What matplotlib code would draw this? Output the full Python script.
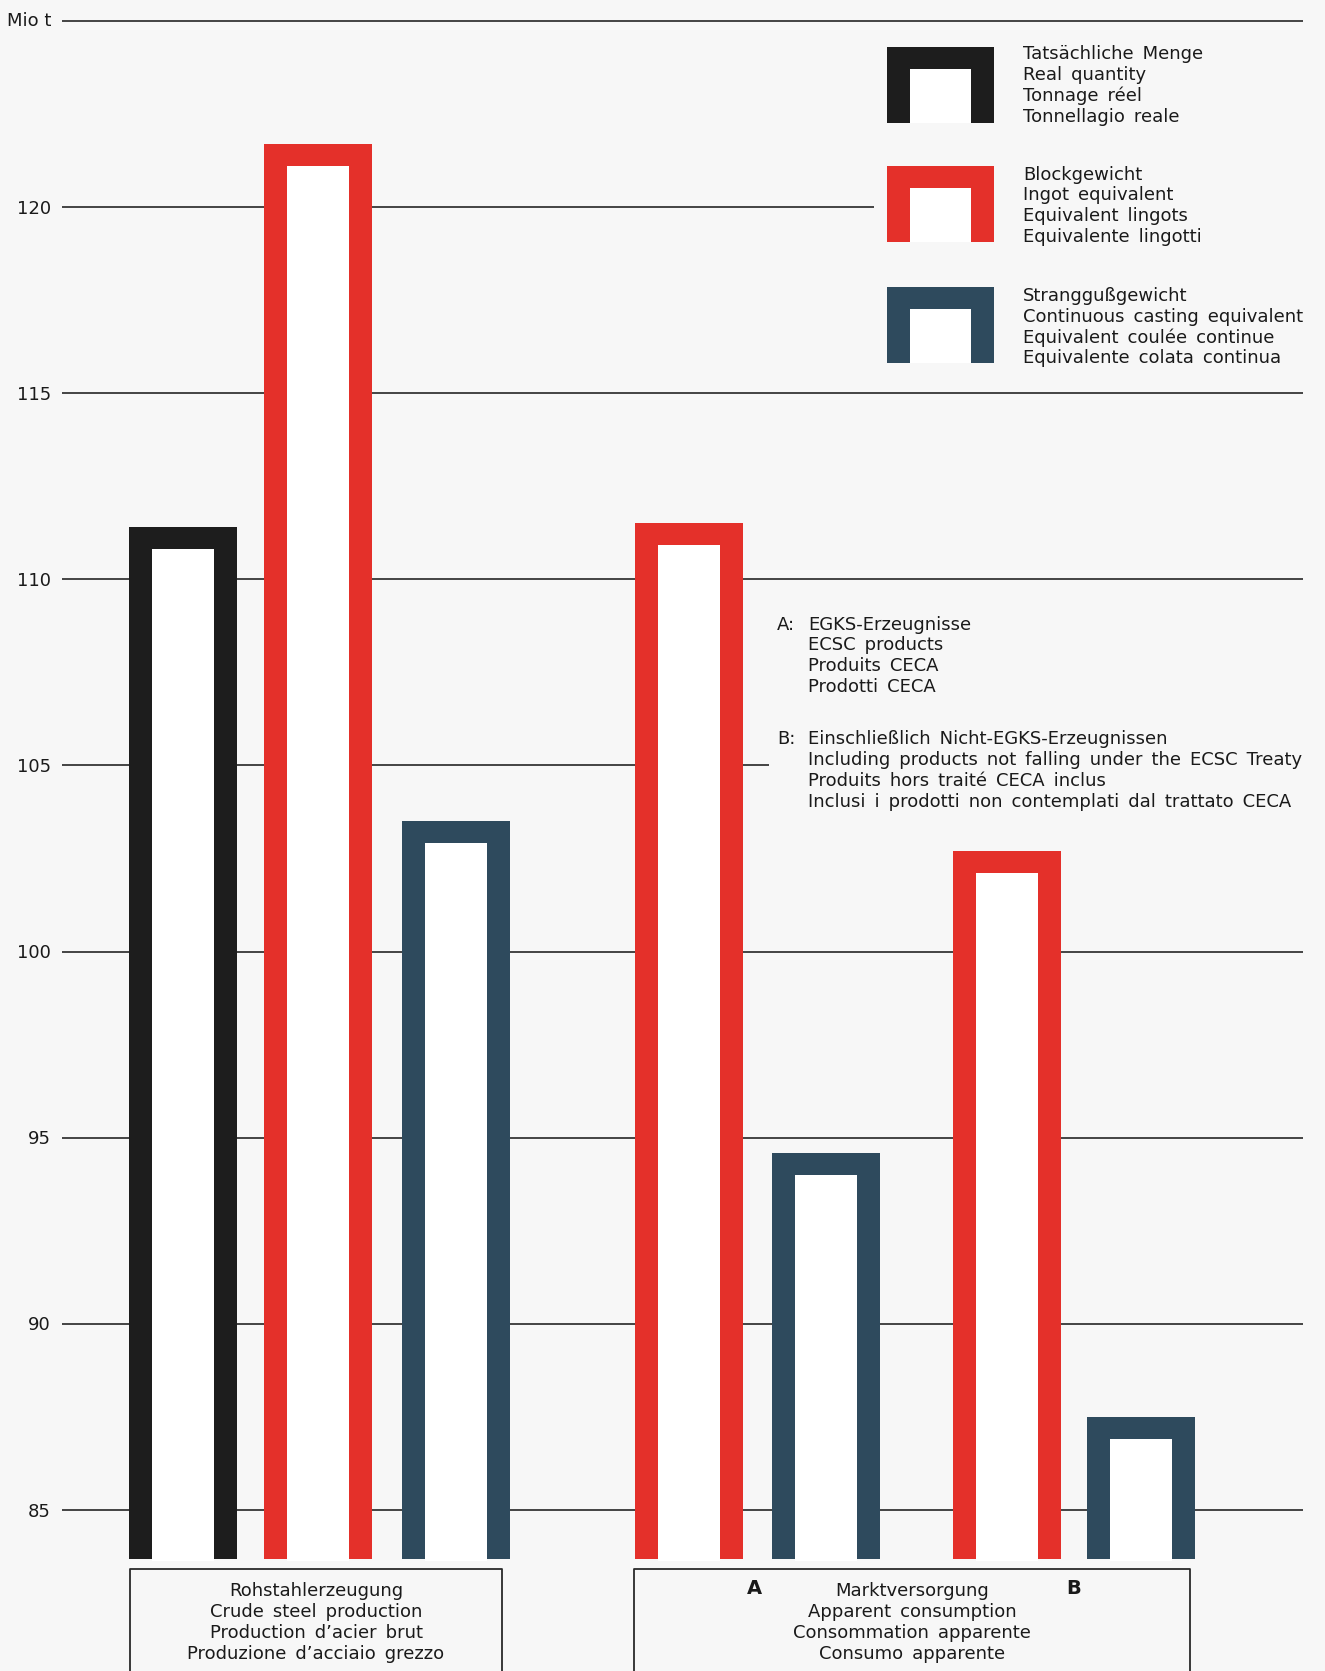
import matplotlib
matplotlib.use('Agg')
import matplotlib.pyplot as plt
from matplotlib.patches import Rectangle

plt.rcParams['font.family'] = ['DejaVu Sans']

# ---------------- data ----------------
bar_values = [111.4, 121.7, 103.5, 111.5, 94.6, 102.7, 87.5]
bar_kinds = ['real', 'ingot', 'cc', 'ingot', 'cc', 'ingot', 'cc']
yticks = [85, 90, 95, 100, 105, 110, 115, 120]
unit_label = 'Mio t'
unit_level = 125
baseline = 83.68

legend_kinds = ['real', 'ingot', 'cc']
legend_texts = [
    ['Tatsächliche Menge', 'Real quantity', 'Tonnage réel', 'Tonnellagio reale'],
    ['Blockgewicht', 'Ingot equivalent', 'Equivalent lingots', 'Equivalente lingotti'],
    ['Stranggußgewicht', 'Continuous casting equivalent', 'Equivalent coulée continue',
     'Equivalente colata continua'],
]
note_A = ['EGKS-Erzeugnisse', 'ECSC products', 'Produits CECA', 'Prodotti CECA']
note_B = ['Einschließlich Nicht-EGKS-Erzeugnissen',
          'Including products not falling under the ECSC Treaty',
          'Produits hors traité CECA inclus',
          'Inclusi i prodotti non contemplati dal trattato CECA']
group_labels = [
    ['Rohstahlerzeugung', 'Crude steel production', 'Production d’acier brut',
     'Produzione d’acciaio grezzo'],
    ['Marktversorgung', 'Apparent consumption', 'Consommation apparente',
     'Consumo apparente'],
]


def sp(s):
    # wide word spacing as in the printed original
    return s.replace(' ', '\u2002')


# ---------------- style / layout ----------------
colors = {'real': '#1d1d1d', 'ingot': '#e4302a', 'cc': '#2e4a5d'}
bg = '#f7f7f7'
txt = '#1a1a1a'
W, H = 1325, 1671
bar_x = [183, 317.5, 456, 689, 825.5, 1007, 1141]
bar_w = 108
side = 23
top_px = 22
px_per_unit = 37.23
y_top_val = 120 + 207 / px_per_unit
y_bot_val = 120 - (H - 207) / px_per_unit

fig = plt.figure(figsize=(W / 100, H / 100), dpi=100, facecolor=bg)
ax = fig.add_axes([0, 0, 1, 1])
ax.set_xlim(0, W)
ax.set_ylim(y_bot_val, y_top_val)
ax.axis('off')
ax.patch.set_alpha(0)

# grid lines
line_kw = dict(color='#262626', lw=1.2, zorder=1)
grid_levels = yticks + [unit_level]
for lv in grid_levels:
    xmax = 1303
    if lv == 120:
        xmax = 874
    elif lv == 105:
        xmax = 769
    ax.hlines(lv, 62, xmax, **line_kw)

# tick labels
off = 6.6 / px_per_unit
for lv in yticks:
    ax.text(51, lv - off, str(lv), ha='right', va='baseline', fontsize=13, color=txt)
ax.text(51, unit_level - off + 0.05, unit_label, ha='right', va='baseline', fontsize=13, color=txt)

# bars (outline "arches")
top_units = top_px / px_per_unit
for x, v, k in zip(bar_x, bar_values, bar_kinds):
    ax.bar(x, v - baseline, bottom=baseline, width=bar_w, color=colors[k], zorder=3, linewidth=0)
    ax.bar(x, v - top_units - baseline + 0.05, bottom=baseline - 0.05, width=bar_w - 2 * side,
           color='white', zorder=4, linewidth=0)

# overlay in pixel coordinates
ov = fig.add_axes([0, 0, 1, 1])
ov.set_xlim(0, W)
ov.set_ylim(H, 0)
ov.axis('off')
ov.patch.set_alpha(0)

# legend
sym_tops = [47, 166, 287]
text_base = [[59, 80, 101, 122], [180, 200, 221, 242], [301, 322, 343, 363]]
for k, t, lines, bases in zip(legend_kinds, sym_tops, legend_texts, text_base):
    ov.add_patch(Rectangle((887, t), 107, 76, color=colors[k], lw=0))
    ov.add_patch(Rectangle((887 + side, t + top_px), 107 - 2 * side, 76 - top_px,
                           color='white', lw=0))
    for s, b in zip(lines, bases):
        ov.text(1023, b, sp(s), fontsize=13, ha='left', va='baseline', color=txt)

# notes
ov.text(777, 629.5, 'A:', fontsize=13, ha='left', va='baseline', color=txt)
for i, s in enumerate(note_A):
    ov.text(808, 629.5 + i * 20.8, sp(s), fontsize=13, ha='left', va='baseline', color=txt)
ov.text(777, 744.5, 'B:', fontsize=13, ha='left', va='baseline', color=txt)
for i, s in enumerate(note_B):
    ov.text(808, 744.5 + i * 20.8, sp(s), fontsize=13, ha='left', va='baseline', color=txt)

# group boxes
boxes = [(130, 502), (634, 1190)]
for (x0, x1), lines in zip(boxes, group_labels):
    ov.plot([x0, x0, x1, x1], [H + 5, 1569, 1569, H + 5], color='#2a2a2a', lw=1.3)
    cx = (x0 + x1) / 2
    for i, s in enumerate(lines):
        ov.text(cx, 1596.5 + i * 20.8, sp(s), fontsize=13, ha='center', va='baseline', color=txt)
ov.text(754, 1594, 'A', fontsize=14, fontweight='bold', ha='center', va='baseline', color=txt)
ov.text(1074, 1594, 'B', fontsize=14, fontweight='bold', ha='center', va='baseline', color=txt)

fig.savefig('out.png', dpi=100, facecolor=bg)
